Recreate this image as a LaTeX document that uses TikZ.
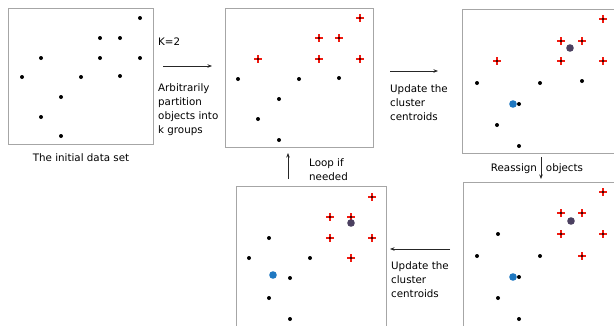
\documentclass[tikz,border=0pt]{standalone}
\usepackage{fontspec}
\setmainfont{DejaVu Sans}
\usetikzlibrary{arrows.meta}
\definecolor{boxgray}{HTML}{A6A6A6}
\definecolor{cpurple}{HTML}{4B4060}
\definecolor{cblue}{HTML}{1F78C1}
\definecolor{cred}{HTML}{F01A10}
\tikzset{
  databox/.style={draw=boxgray, line width=0.9pt},
  pt/.style={fill=black},
  lbl/.style={anchor=north west, inner sep=0pt, align=left, font=\fontsize{10.3}{14.3}\selectfont},
  one/.style={anchor=center, inner sep=0pt, font=\fontsize{10.3}{12}\selectfont},
  arr/.style={-{Stealth[length=4.5pt,width=3.5pt]}, line width=0.7pt, draw=black!85},
  pics/rc/.style={code={
    \draw[cred, line width=2.4pt] (-3.6,0) -- (3.6,0) (0,-3.6) -- (0,3.6);
    \fill[black] (0,0) circle (1.2);
  }}
}
\newcommand{\dotat}[2]{\fill[pt] (#1,#2) circle (2);}
\newcommand{\crossat}[2]{\pic at (#1,#2) {rc};}
\begin{document}
\begin{tikzpicture}[x=1pt,y=-1pt]
\useasboundingbox (0,0) rectangle (614,325);
\clip (0,0) rectangle (614,325);
% boxes
\draw[databox] (8,8) rectangle (153,144);
\draw[databox] (225,8) rectangle (373,147);
\draw[databox] (462,9) rectangle (630,153);
\draw[databox] (463,182) rectangle (630,340);
\draw[databox] (236,186) rectangle (386,340);
% box 1 points
\foreach \x/\y in {140/18,100/38,120/38,41/58,100/58,140/58,22/77,81/77,120/76,61/97,41/117,61/136}
  {\dotat{\x}{\y}}
% box 2
\foreach \x/\y in {360/18,319/38,339/38,258/59,319/59,360/59}
  {\crossat{\x}{\y}}
\foreach \x/\y in {238/79,299/79,339/78,279/99,258/119,279/140}
  {\dotat{\x}{\y}}
% box 3
\foreach \x/\y in {603/19,561/41,582/41,497/61,561/61,603/61}
  {\crossat{\x}{\y}}
\foreach \x/\y in {477/83,540/83,582/81,519/104,497/125,519/146}
  {\dotat{\x}{\y}}
\fill[cpurple] (570,48) circle (3.8);
\fill[cblue] (513,104) circle (3.8);
% box 4
\foreach \x/\y in {603/192,561/213,582/213,561/234,603/234,582/256}
  {\crossat{\x}{\y}}
\foreach \x/\y in {498/234,477/256,540/256,519/277,498/298,519/319}
  {\dotat{\x}{\y}}
\fill[cpurple] (571,221) circle (3.8);
\fill[cblue] (513,277) circle (3.8);
% box 5
\foreach \x/\y in {372/197,330/217,351/217,330/238,372/238,351/258}
  {\crossat{\x}{\y}}
\fill[cpurple] (351,223) circle (3.8);
\foreach \x/\y in {269/238,249/258,310/258,290/278,269/298,290/319}
  {\dotat{\x}{\y}}
\fill[cblue] (273,275) circle (3.8);
% labels
\node[one] (t0) at (81,158) {The initial data set};
\node[lbl] (k2) at (158,38) {K=2};
\node[lbl] (t1) at (158,83) {Arbitrarily\\partition\\objects into\\k groups};
\node[lbl] (t2) at (390,84) {Update the\\cluster\\centroids};
\node[one] (t3) at (537,169) {Reassign\hspace{9pt}objects};
\node[lbl] (t4) at (309,158) {Loop if\\needed};
\node[lbl] (t5) at (391,261) {Update the\\cluster\\centroids};
% arrows
\coordinate (a1s) at (163,66); \coordinate (a1e) at (212,66);
\draw[arr] (a1s) -- (a1e);
\coordinate (a2s) at (390,71); \coordinate (a2e) at (438,71);
\draw[arr] (a2s) -- (a2e);
\coordinate (a3s) at (541,157); \coordinate (a3e) at (541,179);
\draw[arr] (a3s) -- (a3e);
\coordinate (a4s) at (450,249); \coordinate (a4e) at (390,249);
\draw[arr] (a4s) -- (a4e);
\coordinate (a5s) at (288,179); \coordinate (a5e) at (288,153);
\draw[arr] (a5s) -- (a5e);
\end{tikzpicture}
\end{document}
